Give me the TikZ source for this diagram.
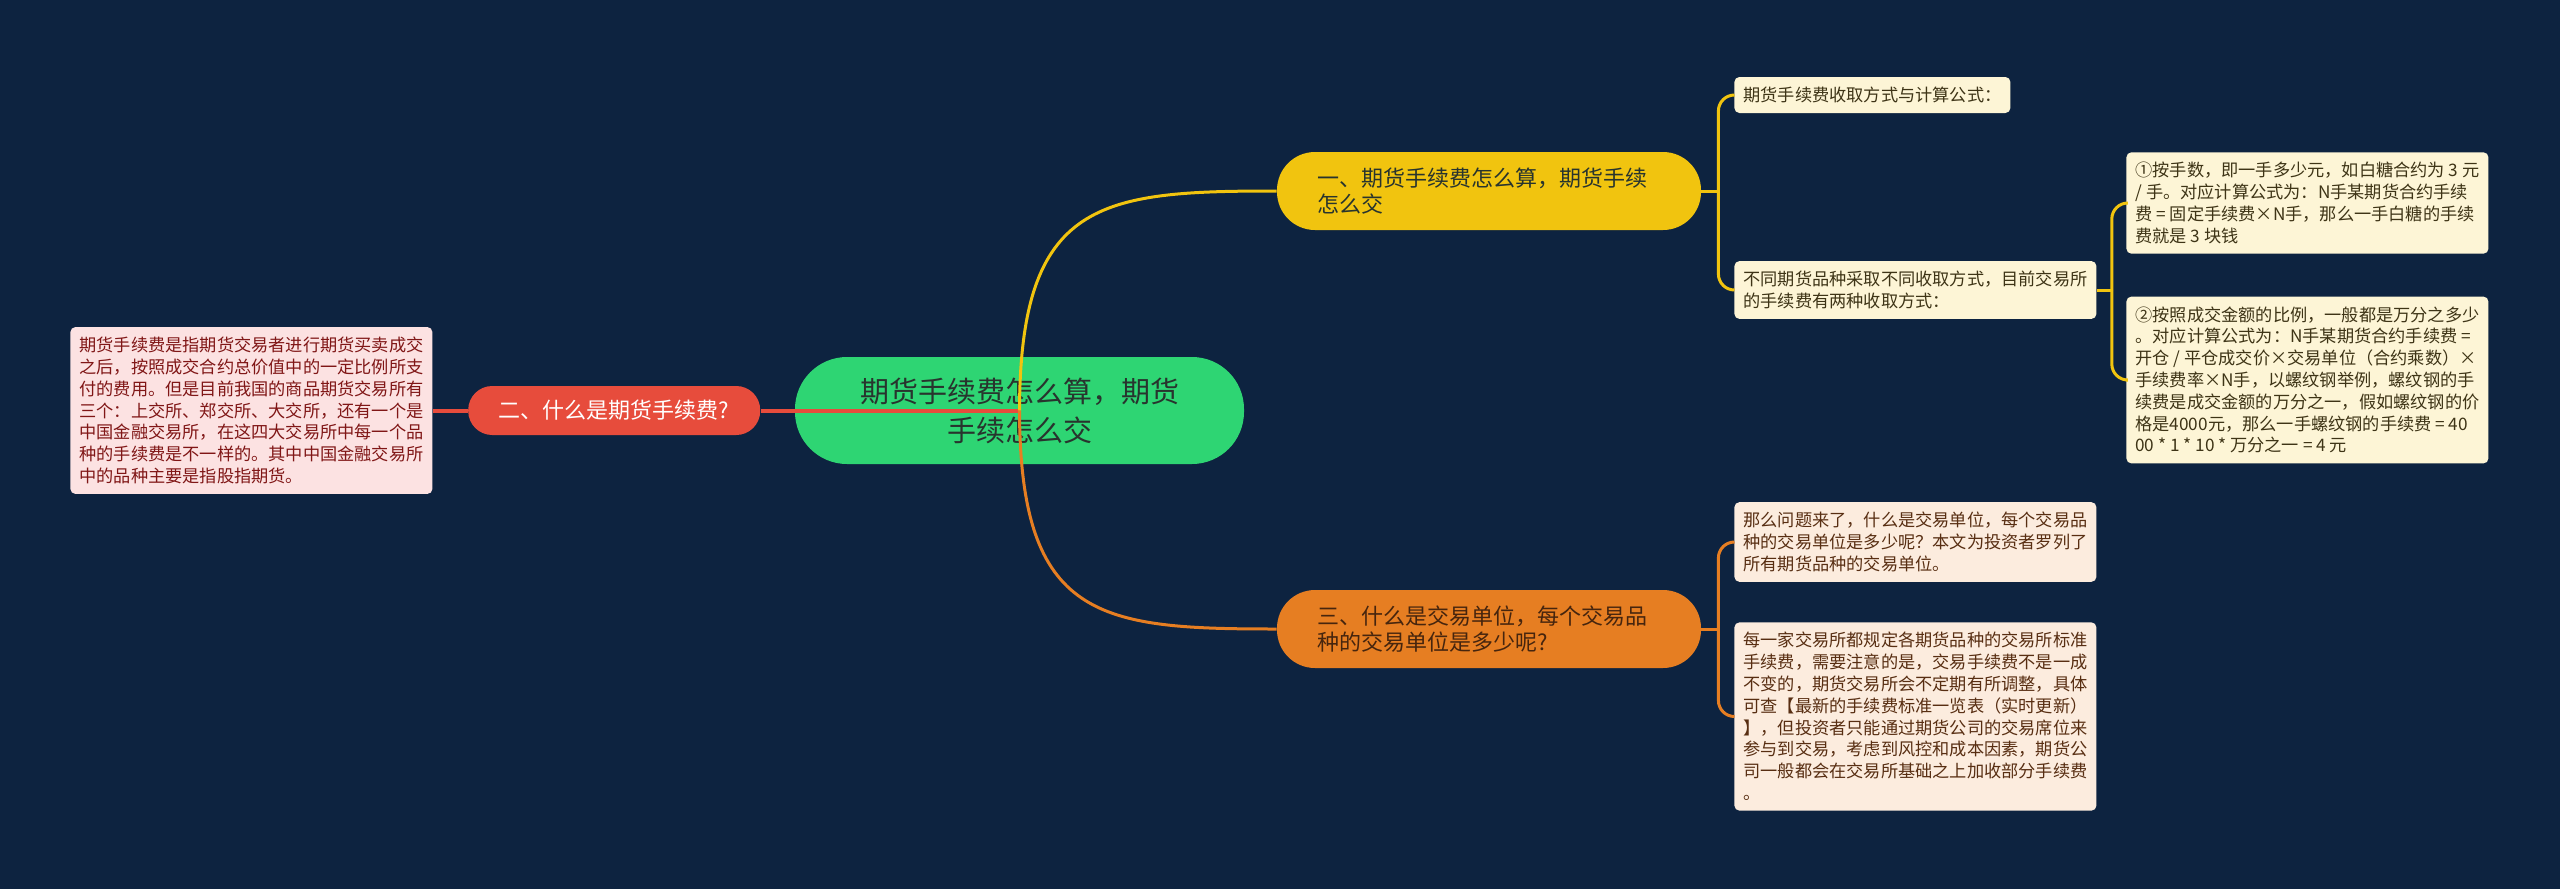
\documentclass[tikz,border=0pt]{standalone}
\usepackage{fontspec}
\setmainfont{Noto Sans CJK SC}
\usetikzlibrary{positioning}
\definecolor{bgnavy}{RGB}{13,35,64}
\definecolor{rootgreen}{RGB}{46,213,115}
\definecolor{roottext}{RGB}{40,52,46}
\definecolor{bryellow}{RGB}{241,196,15}
\definecolor{brorange}{RGB}{230,126,34}
\definecolor{brred}{RGB}{231,76,60}
\definecolor{leafcream}{RGB}{253,245,214}
\definecolor{creamtext}{RGB}{62,52,22}
\definecolor{leafpeach}{RGB}{252,236,222}
\definecolor{peachtext}{RGB}{88,46,18}
\definecolor{leafpink}{RGB}{252,226,226}
\definecolor{pinktext}{RGB}{128,22,22}

\begin{document}
\begin{tikzpicture}[
    x=0.5pt, y=-0.5pt,
    root/.style={fill=rootgreen,rounded corners=26pt,minimum width=224.5pt,minimum height=53.5pt,align=center,text=roottext,font=\fontsize{14.5pt}{19.5pt}\selectfont},
    branch/.style={rounded corners=19pt,minimum width=212pt,minimum height=39pt,inner xsep=20pt,inner ysep=2pt,text width=172pt,align=left,font=\fontsize{11pt}{13pt}\selectfont},
    redbranch/.style={fill=brred,text=white,rounded corners=12pt,minimum width=146pt,minimum height=24.5pt,font=\fontsize{11pt}{13pt}\selectfont},
    leaf/.style={rounded corners=2.5pt,inner xsep=4.5pt,inner ysep=5pt,align=left,font=\fontsize{8.6pt}{10.9pt}\selectfont},
    creamleaf/.style={leaf,fill=leafcream,text=creamtext},
    peachleaf/.style={leaf,fill=leafpeach,text=peachtext},
    pinkleaf/.style={leaf,fill=leafpink,text=pinktext},
    link/.style={line width=1.5pt}
]
\fill[bgnavy] (0,0) rectangle (2560,889);

% centre and left side
\node[root] (root) at (1019.5,410.5) {期货手续费怎么算，期货\\手续怎么交};
\node[redbranch,left=17pt of root] (what) {二、什么是期货手续费?};
\node[pinkleaf,left=17.5pt of what,minimum width=180.5pt] (def) {期货手续费是指期货交易者进行期货买卖成交\\之后，按照成交合约总价值中的一定比例所支\\付的费用。但是目前我国的商品期货交易所有\\三个：上交所、郑交所、大交所，还有一个是\\中国金融交易所，在这四大交易所中每一个品\\种的手续费是不一样的。其中中国金融交易所\\中的品种主要是指股指期货。};

% upper branch
\node[branch,fill=bryellow,text=roottext] (calc) at (1489,191) {一、期货手续费怎么算，期货手续\\怎么交};
\node[creamleaf,anchor=west] (way) at (1734,95) {期货手续费收取方式与计算公式：};
\node[creamleaf,anchor=west,minimum width=181pt] (kinds) at (1734,290) {不同期货品种采取不同收取方式，目前交易所\\的手续费有两种收取方式：};
\node[creamleaf,anchor=west,minimum width=179.5pt] (perlot) at (2126,203) {①按手数，即一手多少元，如白糖合约为 3 元\\/ 手。对应计算公式为：N手某期货合约手续\\费 = 固定手续费×N手，那么一手白糖的手续\\费就是 3 块钱};
\node[creamleaf,anchor=west,minimum width=179.5pt] (ratio) at (2126,380) {②按照成交金额的比例，一般都是万分之多少\\。对应计算公式为：N手某期货合约手续费 =\\开仓 / 平仓成交价×交易单位（合约乘数）×\\手续费率×N手，以螺纹钢举例，螺纹钢的手\\续费是成交金额的万分之一，假如螺纹钢的价\\格是4000元，那么一手螺纹钢的手续费 = 40\\00 * 1 * 10 * 万分之一 = 4 元};

% lower branch
\node[branch,fill=brorange,text=peachtext!80!black] (unit) at (1489,629) {三、什么是交易单位，每个交易品\\种的交易单位是多少呢?};
\node[peachleaf,anchor=west,minimum width=178.5pt] (ask) at (1734,542) {那么问题来了，什么是交易单位，每个交易品\\种的交易单位是多少呢？本文为投资者罗列了\\所有期货品种的交易单位。};
\node[peachleaf,anchor=west,minimum width=178.5pt] (std) at (1734,716.5) {每一家交易所都规定各期货品种的交易所标准\\手续费，需要注意的是，交易手续费不是一成\\不变的，期货交易所会不定期有所调整，具体\\可查【最新的手续费标准一览表（实时更新）\\】，但投资者只能通过期货公司的交易席位来\\参与到交易，考虑到风控和成本因素，期货公\\司一般都会在交易所基础之上加收部分手续费\\。};

% connectors
\draw[brred,line width=2pt] (root.center) -- (what) -- (def);
\draw[link,bryellow] (root.center) .. controls (1020,200) and (1100,191) .. (calc.west);
\draw[link,brorange] (root.center) .. controls (1020,620) and (1100,629) .. (unit.west);

\draw[link,bryellow] (calc.east) -- ++(17,0) coordinate (calcj);
\foreach \b in {way,kinds}
    \draw[link,bryellow,rounded corners=8pt] (calcj) |- (\b.west);
\draw[link,bryellow] (kinds.east) -- ++(15,0) coordinate (kindsj);
\foreach \b in {perlot,ratio}
    \draw[link,bryellow,rounded corners=8pt] (kindsj) |- (\b.west);
\draw[link,brorange] (unit.east) -- ++(17,0) coordinate (unitj);
\foreach \b in {ask,std}
    \draw[link,brorange,rounded corners=8pt] (unitj) |- (\b.west);
\end{tikzpicture}
\end{document}
